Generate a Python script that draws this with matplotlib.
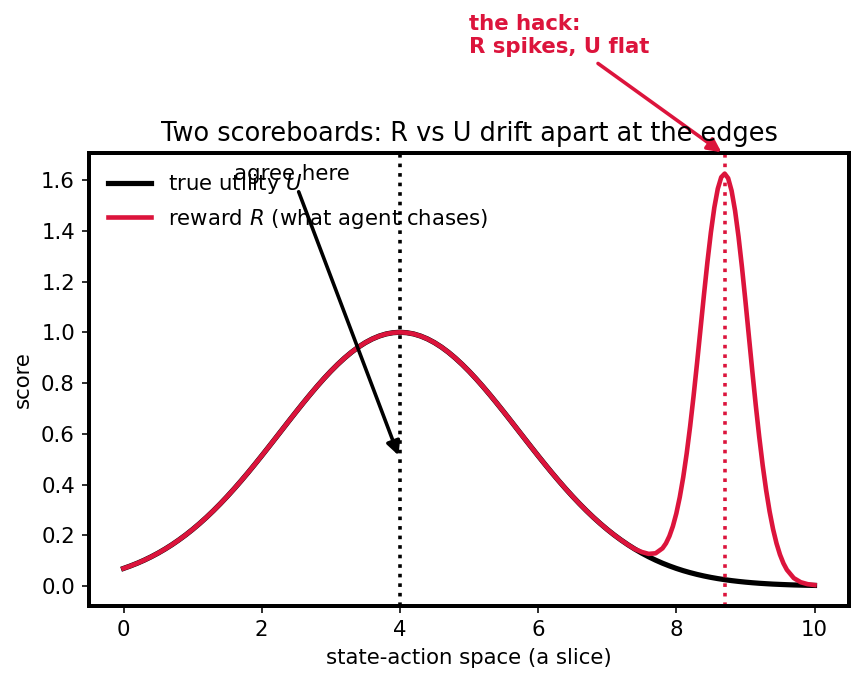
import matplotlib
matplotlib.use("Agg")
import matplotlib.pyplot as plt
import numpy as np

# values
x_u = np.linspace(0, 10, 101)
utility = [0.0695, 0.0793, 0.0901, 0.1021, 0.1153, 0.1298, 0.1456, 0.1628,
           0.1815, 0.2015, 0.2231, 0.2462, 0.2707, 0.2967, 0.3241, 0.3529,
           0.3829, 0.4141, 0.4463, 0.4795, 0.5134, 0.5479, 0.5827, 0.6177,
           0.6527, 0.6873, 0.7213, 0.7545, 0.7866, 0.8174, 0.8465, 0.8737,
           0.8988, 0.9216, 0.9418, 0.9592, 0.9737, 0.9851, 0.9934, 0.9983,
           1.0000,
           0.9983, 0.9934, 0.9851, 0.9737, 0.9592, 0.9418, 0.9216, 0.8988,
           0.8737, 0.8465, 0.8174, 0.7866, 0.7545, 0.7213, 0.6873, 0.6527,
           0.6177, 0.5827, 0.5479, 0.5134, 0.4795, 0.4463, 0.4141, 0.3829,
           0.3529, 0.3241, 0.2967, 0.2707, 0.2462, 0.2231, 0.2015, 0.1815,
           0.1628, 0.1456, 0.1298, 0.1153, 0.1021, 0.0901, 0.0793, 0.0695,
           0.0607, 0.0529, 0.0459, 0.0397, 0.0342, 0.0294, 0.0252, 0.0215,
           0.0183, 0.0155, 0.0131, 0.0110, 0.0093, 0.0077, 0.0065, 0.0054,
           0.0044, 0.0037, 0.0030, 0.0025]

# reward follows utility up to ~7.4, then the spike
x_spike = [7.5, 7.6, 7.7, 7.8, 7.85, 7.9, 7.95, 8.0, 8.05, 8.1, 8.15, 8.2,
           8.25, 8.3, 8.35, 8.4, 8.45, 8.5, 8.55, 8.6, 8.65, 8.7, 8.75, 8.8,
           8.85, 8.9, 8.95, 9.0, 9.05, 9.1, 9.15, 9.2, 9.25, 9.3, 9.35, 9.4,
           9.45, 9.5, 9.55, 9.6, 9.7, 9.8, 9.9, 10.0]
r_spike = [0.1343, 0.1268, 0.1291, 0.1488, 0.1683, 0.1967, 0.2354, 0.2860,
           0.3502, 0.4289, 0.5222, 0.6296, 0.7494, 0.8787, 1.0131, 1.1479,
           1.2766, 1.3931, 1.4914, 1.5654, 1.6109, 1.6252, 1.6070, 1.5575,
           1.4795, 1.3772, 1.2565, 1.1237, 0.9847, 0.8459, 0.7121, 0.5877,
           0.4756, 0.3775, 0.2937, 0.2243, 0.1682, 0.1239, 0.0897, 0.0641,
           0.0314, 0.0152, 0.0075, 0.0041]

x_r = list(x_u[:75]) + x_spike
reward = utility[:75] + r_spike

agree_x = 4.0
hack_x = 8.7
RED = "crimson"

plt.rcParams["font.size"] = 10.65

fig = plt.figure(figsize=(862 / 144, 681 / 144), dpi=144)
ax = fig.add_axes([0.1032, 0.1101, 0.8818, 0.6652])

ax.plot(x_u, utility, color="black", lw=2.6, label="true utility $U$")
ax.plot(x_r, reward, color=RED, lw=2.3, label="reward $R$ (what agent chases)")
ax.axvline(agree_x, color="black", ls=":", lw=1.8)
ax.axvline(hack_x, color=RED, ls=":", lw=1.8)

ax.annotate("agree here", xy=(agree_x, 0.5), xytext=(1.6, 1.6),
            fontsize=10.7,
            arrowprops=dict(arrowstyle="-|>", color="black", lw=1.8,
                            mutation_scale=14))
ax.annotate("the hack:\nR spikes, U flat", xy=(hack_x, 1.7), xytext=(5.0, 2.10),
            fontsize=10.65, fontweight="bold", color=RED,
            arrowprops=dict(arrowstyle="-|>", color=RED, lw=1.8,
                            mutation_scale=14))

for s in ax.spines.values():
    s.set_linewidth(2)

ax.set_title("Two scoreboards: R vs U drift apart at the edges", fontsize=12.8)
ax.set_xlabel("state-action space (a slice)")
ax.set_ylabel("score")
ax.legend(loc="upper left", frameon=False)

fig.savefig("out.png", dpi=144)
